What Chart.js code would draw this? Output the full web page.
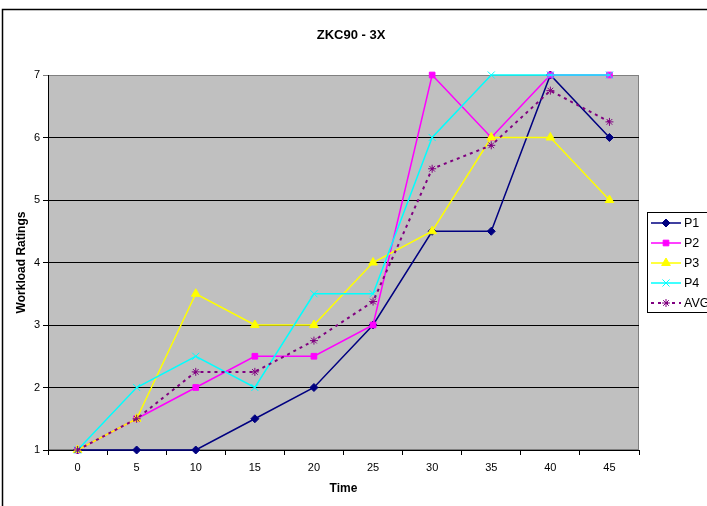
<!DOCTYPE html>
<html>
<head>
<meta charset="utf-8">
<script src="https://cdn.jsdelivr.net/npm/chart.js@4/dist/chart.umd.min.js"></script>
<style>
  body { margin: 0; background: #ffffff; }
  #chart { display: block; }
</style>
</head>
<body>
<canvas id="chart" width="707" height="506"></canvas>
<script>
// Chart data
const chartTitle = 'ZKC90 - 3X';
const timeLabels = ['0', '5', '10', '15', '20', '25', '30', '35', '40', '45'];
const p1 = [1, 1, 1, 1.5, 2, 3, 4.5, 4.5, 7, 6];
const p2 = [1, 1.5, 2, 2.5, 2.5, 3, 7, 6, 7, 7];
const p3 = [1, 1.5, 3.5, 3, 3, 4, 4.5, 6, 6, 5];
const p4 = [1, 2, 2.5, 2, 3.5, 3.5, 6, 7, 7, 7];
const avg = [1, 1.5, 2.25, 2.25, 2.75, 3.375, 5.5, 5.875, 6.75, 6.25];
const yTicks = [1, 2, 3, 4, 5, 6, 7];

const FONT = 'Arial, "Liberation Sans", sans-serif';

// Grey plot area, outer frame and centred title
const backdrop = {
    id: 'backdrop',
    beforeDraw(chart) {
        const { ctx, chartArea: a } = chart;
        ctx.save();
        ctx.strokeStyle = '#000000';
        ctx.lineWidth = 1.5;
        ctx.strokeRect(2.5, 9.5, 760, 560);
        ctx.fillStyle = '#c0c0c0';
        ctx.fillRect(a.left, a.top, a.right - a.left, a.bottom - a.top);
        ctx.strokeStyle = '#808080';
        ctx.lineWidth = 1;
        ctx.strokeRect(a.left + 0.5, a.top + 0.5, a.right - a.left - 1, a.bottom - a.top - 1);

        ctx.fillStyle = '#000000';
        ctx.font = 'bold 13px ' + FONT;
        ctx.textAlign = 'center';
        ctx.textBaseline = 'middle';
        ctx.fillText(chartTitle, 351, 35);
        ctx.restore();
    }
};

// Excel-like legend box on the right
const boxLegend = {
    id: 'boxLegend',
    afterDraw(chart) {
        const { ctx } = chart;
        const x0 = 647, y0 = 212;
        ctx.save();
        ctx.fillStyle = '#ffffff';
        ctx.fillRect(x0, y0, 80, 100);
        ctx.strokeStyle = '#000000';
        ctx.lineWidth = 1;
        ctx.strokeRect(x0 + 0.5, y0 + 0.5, 80, 100);
        chart.data.datasets.forEach((ds, i) => {
            const y = y0 + 11 + i * 20;
            ctx.strokeStyle = ds.borderColor;
            ctx.lineWidth = ds.borderWidth;
            ctx.setLineDash(ds.borderDash || []);
            ctx.beginPath();
            ctx.moveTo(x0 + 4, y);
            ctx.lineTo(x0 + 34, y);
            ctx.stroke();
            ctx.setLineDash([]);
            ctx.fillStyle = ds.pointBackgroundColor;
            ctx.strokeStyle = ds.pointBorderColor;
            ctx.lineWidth = 1;
            Chart.helpers.drawPoint(ctx, {
                pointStyle: ds.pointStyle,
                radius: ds.pointRadius,
                rotation: 0,
                borderWidth: 1
            }, x0 + 19, y);
            ctx.fillStyle = '#000000';
            ctx.font = '12.5px ' + FONT;
            ctx.textBaseline = 'middle';
            ctx.fillText(ds.label, x0 + 37, y + 1);
        });
        ctx.restore();
    }
};

function series(label, data, color, style, radius, dash) {
    return {
        label: label,
        data: data,
        borderColor: color,
        backgroundColor: color,
        borderWidth: dash ? 2 : 1.5,
        borderDash: dash || [],
        pointStyle: style,
        pointRadius: radius,
        pointHoverRadius: radius,
        pointBackgroundColor: color,
        pointBorderColor: color,
        pointBorderWidth: 1,
        tension: 0,
        fill: false,
        clip: false
    };
}

const ctx = document.getElementById('chart').getContext('2d');
new Chart(ctx, {
    type: 'line',
    data: {
        labels: timeLabels,
        datasets: [
            Object.assign(series('P1', p1, '#000080', 'rectRot', 4), { order: 5 }),
            Object.assign(series('P2', p2, '#ff00ff', 'rect', 4), { order: 4 }),
            Object.assign(series('P3', p3, '#ffff00', 'triangle', 5), { order: 3 }),
            Object.assign(series('P4', p4, '#00ffff', 'crossRot', 5), { order: 2 }),
            Object.assign(series('AVG', avg, '#800080', 'star', 4, [3, 4]), { order: 1 })
        ]
    },
    options: {
        responsive: false,
        animation: false,
        layout: { padding: { left: 0, right: 68, top: 75, bottom: 0 } },
        plugins: {
            legend: { display: false },
            tooltip: { enabled: false },
            title: { display: false }
        },
        scales: {
            x: {
                offset: true,
                afterFit: function(scale) { scale.height = 56; },
                grid: {
                    offset: true,
                    drawOnChartArea: false,
                    drawTicks: true,
                    tickLength: 5,
                    color: '#000000'
                },
                border: { color: '#000000', width: 1 },
                ticks: {
                    color: '#000000',
                    font: { family: FONT, size: 11 },
                    padding: 6,
                    maxRotation: 0
                },
                title: {
                    display: true,
                    text: 'Time',
                    color: '#000000',
                    font: { family: FONT, size: 12, weight: 'bold' },
                    padding: { top: 4, bottom: 10 }
                }
            },
            y: {
                min: 1,
                max: 7,
                afterFit: function(scale) { scale.width = 48; },
                afterBuildTicks: function(scale) {
                    scale.ticks = yTicks.map(v => ({ value: v }));
                },
                grid: {
                    color: function(c) { return c.tick && c.tick.value === 7 ? '#808080' : '#000000'; },
                    lineWidth: 1,
                    tickLength: 5
                },
                border: { color: '#000000', width: 1 },
                ticks: {
                    color: '#000000',
                    font: { family: FONT, size: 11 },
                    padding: 3
                },
                title: {
                    display: true,
                    text: 'Workload Ratings',
                    color: '#000000',
                    font: { family: FONT, size: 12, weight: 'bold' },
                    padding: { top: 14, bottom: 0 }
                }
            }
        }
    },
    plugins: [backdrop, boxLegend]
});
</script>
</body>
</html>
